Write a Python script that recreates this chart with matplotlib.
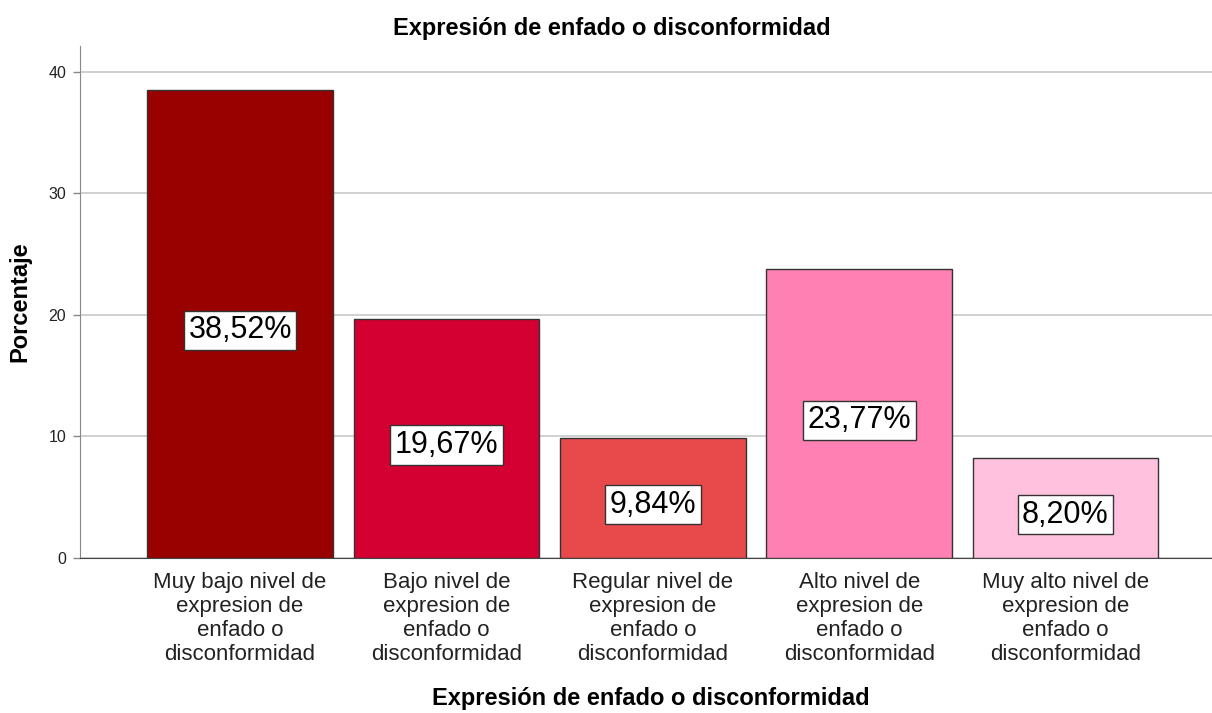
import matplotlib
matplotlib.use("Agg")
import matplotlib.pyplot as plt

categories = [
    "Muy bajo nivel de\nexpresion de\nenfado o\ndisconformidad",
    "Bajo nivel de\nexpresion de\nenfado o\ndisconformidad",
    "Regular nivel de\nexpresion de\nenfado o\ndisconformidad",
    "Alto nivel de\nexpresion de\nenfado o\ndisconformidad",
    "Muy alto nivel de\nexpresion de\nenfado o\ndisconformidad",
]
values = [38.52, 19.67, 9.84, 23.77, 8.20]
labels = ["38,52%", "19,67%", "9,84%", "23,77%", "8,20%"]
colors = ["#990000", "#D50032", "#E84A4C", "#FF80B2", "#FFC1DE"]
yticks = [0, 10, 20, 30, 40]

plt.rcParams['font.family'] = ['Liberation Sans', 'DejaVu Sans']

fig = plt.figure(figsize=(12.12, 7.13), dpi=100)
ax = fig.add_axes([80/1212, 1-558/713, 1132/1212, (558-46)/713])

x = list(range(len(values)))
ax.bar(x, values, width=0.9, color=colors, edgecolor="#333333", linewidth=1.0, zorder=3)
for xi, v, lab in zip(x, values, labels):
    ax.text(xi, v/2 - 0.55, lab, ha="center", va="center", fontsize=22, color="black", zorder=4,
            bbox=dict(boxstyle="square,pad=0.15", facecolor="white", edgecolor="#333333", linewidth=1.0))

ax.set_xlim(-0.776, 4.71)
ax.set_ylim(0, 42.1)
ax.set_yticks(yticks)
ax.set_yticklabels([str(t) for t in yticks], fontsize=11.5, color="#222222")
ax.set_xticks(x)
ax.set_xticklabels(categories, fontsize=16, color="#222222", linespacing=1.2)
ax.tick_params(axis="x", length=0, pad=10)
ax.tick_params(axis="y", length=5, color="#888888", width=1, pad=5)
ax.grid(axis="y", color="#c8c8c8", linewidth=1.2, zorder=0)
for s in ["top", "right"]:
    ax.spines[s].set_visible(False)
ax.spines["left"].set_color("#888888")
ax.spines["bottom"].set_color("#444444")

ax.set_ylabel("Porcentaje", fontsize=17, fontweight="bold", labelpad=12)
ax.set_xlabel("Expresión de enfado o disconformidad", fontsize=17, fontweight="bold")
ax.xaxis.label.set_verticalalignment("center")
ax.xaxis.set_label_coords((651 - 80) / 1132, -(698 - 558) / 512)
fig.text(612/1212, 1-28/713, "Expresión de enfado o disconformidad", ha="center", va="center",
         fontsize=17, fontweight="bold")

fig.savefig("out.png", dpi=100)
